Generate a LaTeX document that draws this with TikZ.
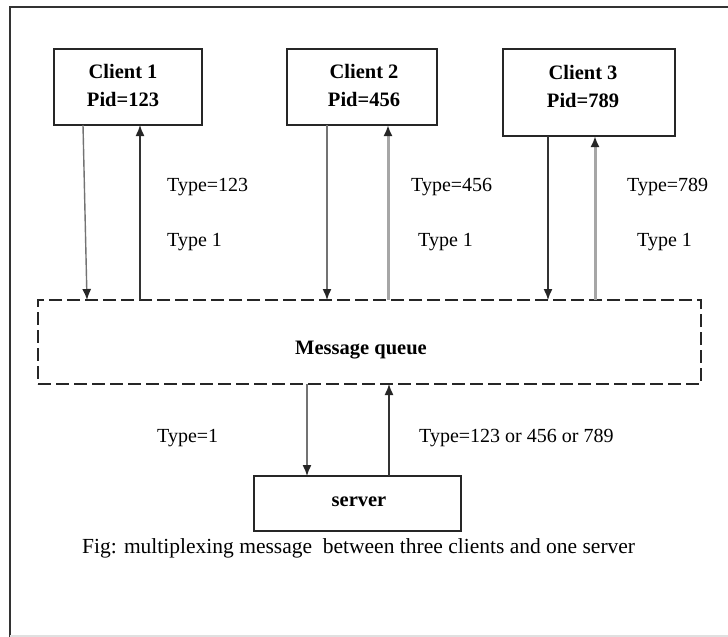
\documentclass[tikz,border=0pt]{standalone}
\usepackage{fontspec}
\setmainfont{Liberation Serif}
\usetikzlibrary{arrows.meta,calc}

\tikzset{
  box/.style={draw=black!85, line width=2pt, rectangle, inner sep=0pt, outer sep=0pt},
  queue/.style={draw=black!85, line width=2pt, dash pattern=on 13pt off 5pt, rectangle, inner sep=0pt, outer sep=0pt},
  title/.style={align=center, inner sep=0pt, font=\bfseries\fontsize{20.5}{28}\selectfont},
  lbl/.style={anchor=west, inner sep=0pt, font=\fontsize{20}{24}\selectfont},
  msg/.style={line width=1.4pt, -{Latex[length=11pt,width=9pt,color=black!85]}},
  dark/.style={msg, draw=black!80},
  mid/.style={msg, draw=black!55},
  light/.style={msg, draw=black!35, line width=3pt}
}

\begin{document}
\begin{tikzpicture}[x=1pt, y=-1pt]
\useasboundingbox (0,0) rectangle (728,637);

% outer frame
\draw[line width=2pt, black!80] (728,7) -- (10,7) -- (10,637);
\draw[line width=1.5pt, black!12] (10,636) -- (728,636);

% clients, queue and server
\node[box, minimum width=148pt, minimum height=76pt] (c1) at (128,87) {};
\node[box, minimum width=150pt, minimum height=76pt] (c2) at (362,87) {};
\node[box, minimum width=172pt, minimum height=87pt] (c3) at (589,92.5) {};
\node[queue, minimum width=663pt, minimum height=84pt] (mq) at (369.5,342) {};
\node[box, minimum width=207pt, minimum height=55pt] (sv) at (357.5,503.5) {};

\node[title] (c1t) at (123,85) {Client 1\\Pid=123};
\node[title] (c2t) at (364,85) {Client 2\\Pid=456};
\node[title] (c3t) at (583,86) {Client 3\\Pid=789};
\node[title] (mqt) at (361,350) {Message queue};
\node[title] (svt) at (359,502) {server};

% client <-> queue traffic
\draw[mid]   ($(c1.south west)+(29,0)$)  -- ($(mq.north west)+(49,0)$);
\draw[dark]  ($(mq.north west)+(102,0)$) -- ($(c1.south west)+(86,0)$);
\draw[mid]   ($(c2.south west)+(40,0)$)  -- ($(mq.north west)+(289,0)$);
\draw[light] ($(mq.north west)+(350,0)$) -- ($(c2.south west)+(101,0)$);
\draw[dark]  ($(c3.south west)+(45,0)$)  -- ($(mq.north west)+(510,0)$);
\draw[light] ($(mq.north west)+(557,0)$) -- ($(c3.south west)+(92,0)$);

% queue <-> server traffic
\draw[mid]  ($(mq.south west)+(269,0)$) -- ($(sv.north west)+(53,0)$);
\draw[dark] ($(sv.north west)+(135,0)$) -- ($(mq.south west)+(351,0)$);

% message type labels
\node[lbl] (t1a) at (167,187) {Type=123};
\node[lbl] (t1b) at (167,242) {Type 1};
\node[lbl] (t2a) at (411,187) {Type=456};
\node[lbl] (t2b) at (418,242) {Type 1};
\node[lbl] (t3a) at (627,187) {Type=789};
\node[lbl] (t3b) at (637,242) {Type 1};
\node[lbl] (tsd) at (157,438) {Type=1};
\node[lbl] (tsu) at (419,438) {Type=123 or 456 or 789};

% caption
\node[lbl, font=\fontsize{21.5}{26}\selectfont] (cap) at (82,548) {Fig: multiplexing message\ \ between three clients and one server};
\end{tikzpicture}
\end{document}
